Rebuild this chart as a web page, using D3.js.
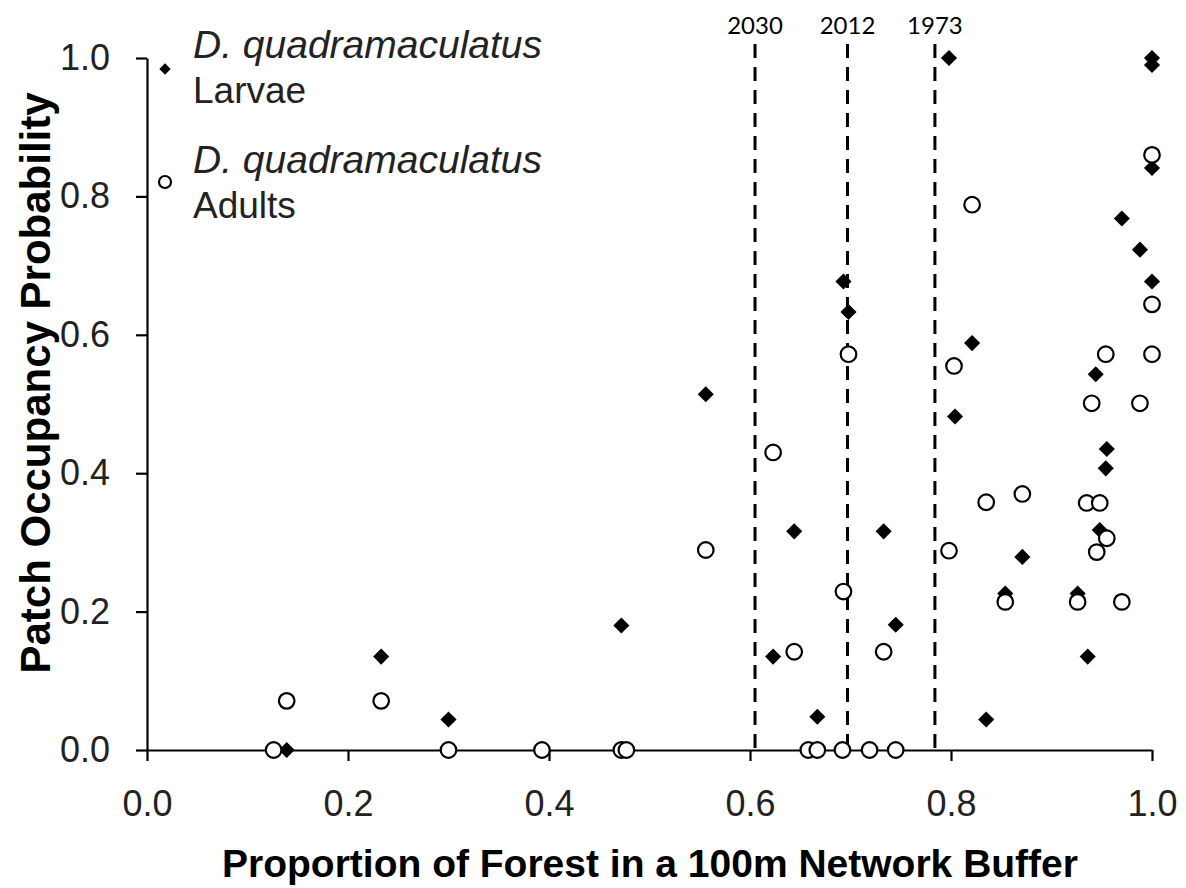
<!DOCTYPE html>
<html>
<meta charset="utf-8">
<style>

body {
  margin: 0;
  background: #fff;
}

text {
  font-family: Arial, "Liberation Sans", sans-serif;
  fill: #000;
}

.axis path,
.axis line {
  fill: none;
  stroke: #000;
  stroke-width: 2.2px;
}

.axis text {
  font-family: Arial, "Liberation Sans", sans-serif;
  font-size: 36px;
  fill: #222;
}

.title {
  font-weight: bold;
}

.legend text {
  font-size: 37px;
  fill: #222;
}

.legend .species {
  font-size: 39px;
  font-style: italic;
}

.year {
  font-family: Lato, "Open Sans", sans-serif;
  font-size: 24px;
}

.cutoff {
  stroke: #000;
  stroke-width: 3px;
  stroke-dasharray: 14, 9;
}

.larvae {
  fill: #000;
}

.adults {
  fill: #fff;
  stroke: #000;
  stroke-width: 2.2px;
}

</style>
<body>
<script src="https://d3js.org/d3.v7.min.js"></script>
<script>

// larvae (filled diamonds): [forest proportion, occupancy]
var larvae = [
  [0.139, 0.000], [0.233, 0.135], [0.300, 0.044], [0.472, 0.180],
  [0.556, 0.514], [0.623, 0.135], [0.644, 0.316], [0.667, 0.048],
  [0.693, 0.677], [0.698, 0.633], [0.733, 0.316], [0.745, 0.181],
  [0.798, 1.000], [0.804, 0.482], [0.821, 0.588], [0.835, 0.044],
  [0.854, 0.226], [0.871, 0.279], [0.926, 0.226], [0.936, 0.135],
  [0.944, 0.543], [0.948, 0.318], [0.954, 0.407], [0.955, 0.435],
  [0.970, 0.768], [0.988, 0.723], [1.000, 1.000], [1.000, 0.990],
  [1.000, 0.841], [1.000, 0.677]
];

// adults (open circles)
var adults = [
  [0.126, 0.000], [0.139, 0.071], [0.233, 0.071], [0.300, 0.000],
  [0.393, 0.000], [0.472, 0.000], [0.477, 0.000], [0.556, 0.289],
  [0.623, 0.430], [0.644, 0.142], [0.658, 0.000], [0.667, 0.000],
  [0.692, 0.000], [0.693, 0.229], [0.698, 0.572], [0.719, 0.000],
  [0.733, 0.142], [0.745, 0.000], [0.798, 0.288], [0.803, 0.555],
  [0.821, 0.788], [0.835, 0.358], [0.854, 0.214], [0.871, 0.370],
  [0.926, 0.214], [0.935, 0.357], [0.940, 0.501], [0.945, 0.286],
  [0.948, 0.357], [0.954, 0.572], [0.955, 0.306], [0.970, 0.214],
  [0.988, 0.501], [1.000, 0.860], [1.000, 0.644], [1.000, 0.572]
];

// forest cover thresholds by year
var years = ["2030", "2012", "1973"];
var yearForest = [0.605, 0.697, 0.784];

var xTicks = [0, 0.2, 0.4, 0.6, 0.8, 1.0],
    yTicks = [0, 0.2, 0.4, 0.6, 0.8, 1.0];

var width = 1186,
    height = 888,
    margin = {top: 58, right: 34, bottom: 138, left: 147};

var svg = d3.select("body").append("svg")
    .attr("width", width)
    .attr("height", height);

var x = d3.scaleLinear()
    .domain([0, 1])
    .range([margin.left, width - margin.right]);

var y = d3.scaleLinear()
    .domain([0, 1])
    .range([height - margin.bottom, margin.top]);

var xAxis = d3.axisBottom(x)
    .tickValues(xTicks)
    .tickFormat(d3.format(".1f"))
    .tickSize(11)
    .tickSizeOuter(0)
    .tickPadding(29);

var yAxis = d3.axisLeft(y)
    .tickValues(yTicks)
    .tickFormat(d3.format(".1f"))
    .tickSize(11)
    .tickSizeOuter(0)
    .tickPadding(26);

svg.append("g")
    .attr("class", "x axis")
    .attr("transform", "translate(0," + y(0) + ")")
    .call(xAxis)
    .call(function(g) { g.attr("font-family", null).attr("font-size", null); });

svg.append("g")
    .attr("class", "y axis")
    .attr("transform", "translate(" + x(0) + ",0)")
    .call(yAxis)
    .call(function(g) { g.attr("font-family", null).attr("font-size", null); });

// dashed year lines
svg.selectAll(".cutoff")
    .data(yearForest)
  .enter().append("line")
    .attr("class", "cutoff")
    .attr("x1", function(d) { return x(d); })
    .attr("x2", function(d) { return x(d); })
    .attr("y1", 44)
    .attr("y2", y(0));

svg.selectAll(".year")
    .data(years)
  .enter().append("text")
    .attr("class", "year")
    .attr("x", function(d, i) { return x(yearForest[i]); })
    .attr("y", 34)
    .attr("text-anchor", "middle")
    .text(function(d) { return d; });

var diamond = d3.symbol().type(d3.symbolSquare).size(130);

svg.append("g").selectAll("path")
    .data(larvae)
  .enter().append("path")
    .attr("class", "larvae")
    .attr("d", diamond)
    .attr("transform", function(d) { return "translate(" + x(d[0]) + "," + y(d[1]) + ") rotate(45)"; });

svg.append("g").selectAll("circle")
    .data(adults)
  .enter().append("circle")
    .attr("class", "adults")
    .attr("r", 7.8)
    .attr("cx", function(d) { return x(d[0]); })
    .attr("cy", function(d) { return y(d[1]); });

// legend
var legend = svg.append("g").attr("class", "legend");

legend.append("path")
    .attr("class", "larvae")
    .attr("d", d3.symbol().type(d3.symbolSquare).size(64))
    .attr("transform", "translate(165,69) rotate(45)");

legend.append("circle")
    .attr("class", "adults")
    .attr("r", 6)
    .attr("cx", 165)
    .attr("cy", 182);

[["D. quadramaculatus", "Larvae", 58], ["D. quadramaculatus", "Adults", 173]].forEach(function(l) {
  legend.append("text")
      .attr("class", "species")
      .attr("x", 193)
      .attr("y", l[2])
      .text(l[0]);
  legend.append("text")
      .attr("x", 193)
      .attr("y", l[2] + 45)
      .text(l[1]);
});

svg.append("text")
    .attr("class", "title")
    .attr("x", 650)
    .attr("y", 877)
    .attr("text-anchor", "middle")
    .style("font-size", "39px")
    .text("Proportion of Forest in a 100m Network Buffer");

svg.append("text")
    .attr("class", "title")
    .attr("transform", "translate(50,383) rotate(-90)")
    .attr("text-anchor", "middle")
    .style("font-size", "42px")
    .text("Patch Occupancy Probability");

</script>
</body>
</html>
